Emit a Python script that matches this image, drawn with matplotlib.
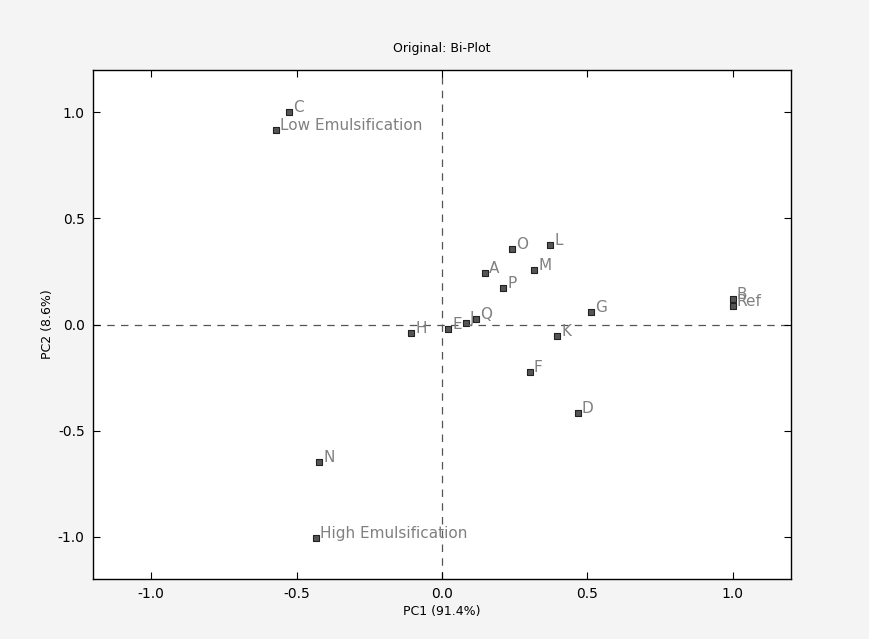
import matplotlib
matplotlib.use("Agg")
import matplotlib.pyplot as plt

labels = ["C", "Low Emulsification", "A", "O", "L", "M", "P", "G", "B", "Ref",
          "H", "E", "J", "Q", "K", "F", "D", "N", "High Emulsification"]
pc1 = [-0.526, -0.570, 0.148, 0.241, 0.371, 0.316, 0.210, 0.512, 1.0, 1.0,
       -0.107, 0.021, 0.082, 0.116, 0.395, 0.302, 0.467, -0.423, -0.433]
pc2 = [1.0, 0.915, 0.245, 0.358, 0.373, 0.255, 0.170, 0.061, 0.118, 0.085,
       -0.042, -0.019, 0.005, 0.028, -0.052, -0.222, -0.415, -0.646, -1.005]

xticks = [-1.0, -0.5, 0.0, 0.5, 1.0]
yticks = [-1.0, -0.5, 0.0, 0.5, 1.0]

fig = plt.figure(figsize=(8.69, 6.39), dpi=100, facecolor="#f4f4f4")
ax = fig.add_axes([93/869, 1-579/639, (791-93)/869, (579-70)/639])
ax.set_facecolor("white")

ax.axhline(0, color="#555555", lw=0.9, ls=(0, (6, 5)), zorder=1)
ax.axvline(0, color="#555555", lw=0.9, ls=(0, (6, 5)), zorder=1)

ax.scatter(pc1, pc2, marker="s", s=16, facecolor="#555555", edgecolor="#222222",
           linewidth=0.8, zorder=3)
for lab, x, y in zip(labels, pc1, pc2):
    ax.annotate(lab, (x, y), xytext=(3, 0), textcoords="offset points",
                color="#808080", fontsize=11, ha="left", va="baseline", zorder=4)

ax.set_xlim(-1.2, 1.2)
ax.set_ylim(-1.2, 1.2)
ax.set_xticks(xticks)
ax.set_yticks(yticks)
ax.set_xticklabels([f"{t:.1f}" for t in xticks])
ax.set_yticklabels([f"{t:.1f}" for t in yticks])
ax.tick_params(direction="in", length=5, top=True, right=True, labelsize=10, pad=6)
for s in ax.spines.values():
    s.set_linewidth(1.0)

ax.set_title("Original: Bi-Plot", fontsize=9, family="Liberation Sans Narrow", pad=13)
ax.set_xlabel("PC1 (91.4%)", fontsize=9, family="Liberation Sans Narrow", labelpad=3)
ax.set_ylabel("PC2 (8.6%)", fontsize=9, family="Liberation Sans Narrow", labelpad=3)

fig.savefig("out.png", dpi=100, facecolor=fig.get_facecolor())
